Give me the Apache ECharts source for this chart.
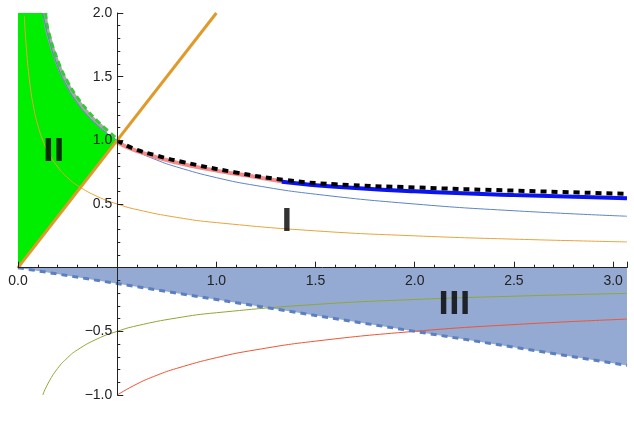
<!DOCTYPE html>
<html><head><meta charset="utf-8">
<script src="https://cdn.jsdelivr.net/npm/echarts@6/dist/echarts.min.js"></script>
<style>html,body{margin:0;padding:0;background:#fff}#c{width:634px;height:435px}</style>
</head><body><div id="c"></div>
<script>
const leftX = [0.125,0.15,0.2,0.25,0.3,0.35,0.4,0.45,0.5];
const leftUpper = [2.0,1.826,1.581,1.414,1.291,1.195,1.118,1.054,1.0];
const grayX = [0.135,0.15,0.2,0.25,0.3,0.35,0.4,0.45];
const grayY = [2.0,1.85,1.605,1.437,1.313,1.215,1.136,1.068];
const gdashX = [0.14,0.15,0.2,0.25,0.3,0.35,0.4,0.45,0.5];
const gdashY = [2.0,1.88,1.63,1.46,1.335,1.235,1.152,1.08,1.01];
const rightX = [0.5,0.6,0.7,0.8,1.0,1.2,1.5,2.0,2.5,3.07];
const thinBlue = [1,0.913,0.845,0.791,0.707,0.645,0.577,0.5,0.447,0.404];
const redY = [-1,-0.913,-0.845,-0.791,-0.707,-0.645,-0.577,-0.5,-0.447,-0.404];
const orangeX = [0.032,0.04,0.06,0.08,0.1,0.125,0.15,0.2,0.25,0.3,0.4,0.5,0.6,0.8,1.0,1.5,2,2.5,3.07];
const orangeY = [1.976,1.768,1.443,1.25,1.118,1.0,0.913,0.791,0.707,0.645,0.559,0.5,0.456,0.395,0.354,0.289,0.25,0.224,0.202];
const oliveX = [0.125,0.15,0.2,0.25,0.3,0.4,0.5,0.6,0.8,1.0,1.5,2,2.5,3.07];
const oliveY = [-1.0,-0.913,-0.791,-0.707,-0.645,-0.559,-0.5,-0.456,-0.395,-0.354,-0.289,-0.25,-0.224,-0.202];
const dashX = [0.5,0.58,0.7,0.83,1.09,1.34,1.6,2.0,2.5,3.07];
const dashY = [1,0.937,0.88,0.83,0.75,0.69,0.655,0.63,0.605,0.58];
const pinkX = [0.5,0.6,0.8,1.0,1.2,1.34];
const pinkY = [0.985,0.915,0.825,0.762,0.712,0.675];
const thickX = [1.33,1.6,2.0,2.5,3.07];
const thickY = [0.675,0.635,0.6,0.57,0.545];
const lineX = [0,1.0];
const lineY = [0,2.0];
const regionIIIx = [0,3.07,3.07];
const regionIIIy = [0,0,-0.7675];
const xTicks = ['0.0','1.0','1.5','2.0','2.5','3.0'];
const labelText = ['I','II','III'];
const labelX = [1.355,0.18,2.2];
const labelY = [0.35,0.9,-0.3];

const zip = (a,b)=>a.map((v,i)=>[v,b[i]]);
const regionII = [[0,0],[0,2]].concat(zip(leftX,leftUpper)).concat([[0,0]]);
const regionIII = zip(regionIIIx,regionIIIy);
function poly(points, fill){
  return {type:'custom',coordinateSystem:'cartesian2d',clip:true,silent:true,z:1,
    data:[[0,0]],
    renderItem:(p,api)=>({type:'polygon',shape:{points:points.map(q=>api.coord(q))},style:{fill:fill}})};
}
function ln(x,y,color,width,extra){
  return Object.assign({type:'line',data:zip(x,y),showSymbol:false,smooth:true,silent:true,clip:true,
    lineStyle:{color:color,width:width},z:3},extra||{});
}
const chart = echarts.init(document.getElementById('c'));
chart.setOption({
  animation:false,
  grid:{left:18,right:7,top:13,bottom:40},
  xAxis:{type:'value',min:0,max:3.07,interval:0.5,position:'bottom',offset:-127.3,z:10,
    axisLine:{onZero:false,lineStyle:{color:'#222'}},
    axisTick:{inside:true,length:6,lineStyle:{color:'#222'}},
    minorTick:{show:true,splitNumber:5,length:3,lineStyle:{color:'#222'}},
    splitLine:{show:false},
    axisLabel:{showMaxLabel:false,hideOverlap:false,fontFamily:'Liberation Sans',fontSize:14,color:'#222',margin:6,
      formatter:v=>{const s=v.toFixed(1);return xTicks.includes(s)?s:'';}}},
  yAxis:{type:'value',min:-1,max:2,interval:0.5,position:'left',offset:-99.3,z:10,
    axisLine:{show:true,onZero:false,lineStyle:{color:'#222'}},
    axisTick:{inside:true,length:6,lineStyle:{color:'#222'}},
    minorTick:{show:true,splitNumber:5,length:3,lineStyle:{color:'#222'}},
    splitLine:{show:false},
    axisLabel:{hideOverlap:false,fontFamily:'Liberation Sans',fontSize:14,color:'#222',margin:5,
      formatter:v=>Math.abs(v)<1e-9?'':(v<0?'\u2212'+(-v).toFixed(1):v.toFixed(1))}},
  series:[
    poly(regionII,'#00ee00'),
    poly(regionIII,'#94aad3'),
    ln(grayX,grayY,'#a8a8a8',4),
    ln(gdashX,gdashY,'#33cc33',3,{lineStyle:{color:'#33cc33',width:3,type:[6,4]}}),
    ln(leftX,leftUpper,'#5b84c4',1),
    ln(rightX,thinBlue,'#5b84c4',1),
    ln(orangeX,orangeY,'#e8a33a',1),
    ln(oliveX,oliveY,'#8fa832',1),
    ln(rightX,redY,'#ee5533',1),
    ln(pinkX,pinkY,'#f28a8a',4),
    ln(thickX,thickY,'#0a14f0',4),
    ln(dashX,dashY,'#000',4,{lineStyle:{color:'#000',width:4,type:[6,5]},z:4}),
    ln(regionIIIx.slice(0,1).concat([3.07]),[0,-0.7675],'#5b7fbf',3,{smooth:false,lineStyle:{color:'#5b7fbf',width:3,type:[6,5]}}),
    ln(lineX,lineY,'#e09a2a',3,{smooth:false,z:5}),
    {type:'scatter',data:labelX.map((x,i)=>[x,labelY[i],labelText[i]]),symbolSize:0,silent:true,z:6,
      label:{show:true,position:'inside',formatter:p=>p.data[2],fontFamily:'DejaVu Sans Condensed',fontWeight:'bold',fontSize:32,color:'#000',textBorderWidth:0}}
  ]
});
</script></body></html>
